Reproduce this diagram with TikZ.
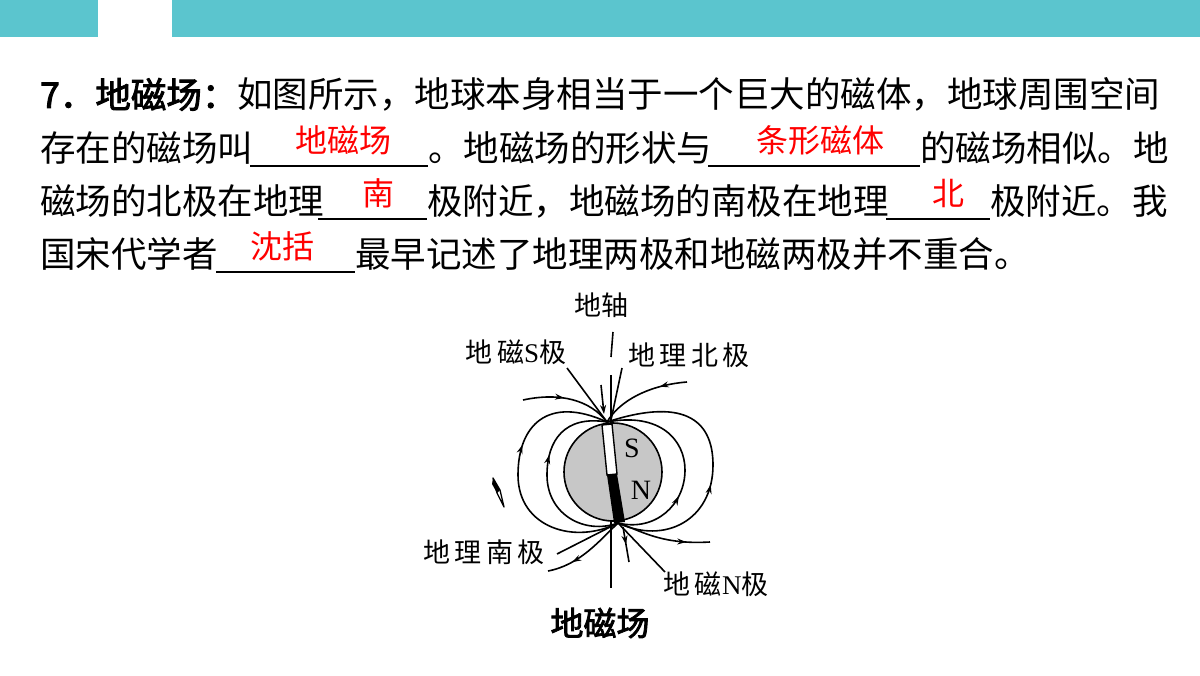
\documentclass[tikz,border=0pt]{standalone}
\usepackage{fontspec}
\usetikzlibrary{arrows.meta,decorations.markings}
\newfontfamily\cjk{Noto Sans CJK SC}[AutoFakeBold=2.5]
\newfontfamily\lat{Liberation Serif}
\definecolor{teal}{HTML}{5BC5CE}
\begin{document}
\begin{tikzpicture}[x=1pt,y=-1pt,
  body/.style={anchor=base west,inner sep=0pt,font=\cjk\fontsize{35.5}{35}\selectfont},
  ans/.style={anchor=base,inner sep=0pt,text=red,font=\cjk\fontsize{32}{32}\selectfont},
  lab/.style={inner sep=0pt,font=\cjk\fontsize{27}{27}\selectfont},
  fl/.style={line width=1.6pt},
  midarrow/.style={postaction={decorate},decoration={markings,mark=at position #1 with {\arrow{Stealth[length=9pt,width=6pt]}}}}]
\useasboundingbox (0,0) rectangle (1200,676);
\fill[teal] (0,0) rectangle (98,37);
\fill[teal] (172,0) rectangle (1200,37);
% text lines
\node[body] (l1) at (40,108) {{\bfseries 7．地磁场：}如图所示，地球本身相当于一个巨大的磁体，地球周围空间};
\node[body] (l2a) at (40,162) {存在的磁场叫};
\node[body] (l2b) at (428,162) {。地磁场的形状与};
\node[body] (l2c) at (920,162) {的磁场相似。地};
\node[body] (l3a) at (40,215) {磁场的北极在地理};
\node[body] (l3b) at (427,215) {极附近，地磁场的南极在地理};
\node[body] (l3c) at (990,215) {极附近。我};
\node[body] (l4a) at (40,268) {国宋代学者};
\node[body] (l4b) at (355,268) {最早记述了地理两极和地磁两极并不重合。};
\draw[line width=1.4pt] (250,166) -- (428,166) (708,166) -- (920,166)
  (318,219) -- (427,219) (886,219) -- (990,219) (216,272) -- (355,272);
\node[ans] (a1) at (343,153) {地磁场};
\node[ans] (a2) at (820,153) {条形磁体};
\node[ans] (a3) at (378,206) {南};
\node[ans] (a4) at (948,206) {北};
\node[ans] (a5) at (282,259) {沈括};
% diagram
\coordinate (P) at (607,422);
\coordinate (Q) at (618,523);
\draw[fl] (613,332) -- (611,357);
\draw[fl] (611,375) -- (611,588);
\node[draw,line width=1.6pt,fill=black!22,circle,minimum size=98pt,inner sep=0pt] (globe) at (613,472) {};
\fill[white,draw=black,line width=1.4pt] (602,425) -- (612,424) -- (617,474) -- (607,475) -- cycle;
\fill[black] (607,475) -- (617,474) -- (625,522) -- (614,523) -- cycle;
\node[inner sep=0pt,font=\lat\fontsize{28}{28}\selectfont] (S) at (632,448) {S};
\node[inner sep=0pt,font=\lat\fontsize{28}{28}\selectfont] (N) at (641,490) {N};
% loops
\draw[fl,midarrow=0.62] (Q) .. controls (585,535) and (547,515) .. (547,475) .. controls (547,440) and (565,415) .. (P);
\draw[fl,midarrow=0.35] (Q) .. controls (655,532) and (685,505) .. (685,470) .. controls (685,440) and (660,412) .. (P);
\draw[fl,midarrow=0.62] (Q) .. controls (575,545) and (518,528) .. (518,475) .. controls (518,425) and (548,395) .. (P);
\draw[fl,midarrow=0.42] (Q) .. controls (665,545) and (713,520) .. (713,465) .. controls (713,425) and (690,395) .. (P);
\coordinate (tl) at (523,400);
\coordinate (tr) at (687,382);
\coordinate (br) at (710,542);
\coordinate (bl) at (548,571);
\draw[fl,midarrow=0.45] (tl) .. controls (560,392) and (590,400) .. (P);
\draw[fl,midarrow=0.3] (tr) .. controls (650,385) and (620,400) .. (P);
\draw[fl,midarrow=0.75] (Q) .. controls (640,530) and (660,545) .. (br);
\draw[fl,midarrow=0.7] (Q) .. controls (600,540) and (580,565) .. (bl);
% pointer lines
\coordinate (sp) at (567,368);
\coordinate (np) at (622,368);
\coordinate (sbp) at (557,554);
\coordinate (nbp) at (665,572);
\draw[fl] (sp) -- (P);
\draw[fl] (np) -- (611,420);
\draw[fl] (sbp) -- (Q);
\draw[fl] (nbp) -- (Q);
\coordinate (a1s) at (601,385);
\coordinate (a1e) at (604,414);
\draw[fl,-{Stealth[length=9pt,width=6pt]}] (a1s) -- (a1e);
\coordinate (a2s) at (623,527);
\coordinate (a2e) at (629,562);
\draw[fl,midarrow=0.5] (a2s) -- (a2e);
% compass
\fill[black] (493,478) -- (500,490) -- (497,493) -- (492,484) -- cycle;
\draw[line width=1.3pt,line join=round] (493,478) -- (500,490) -- (504,507) -- (497,493) -- cycle;
% labels
\node[lab] (zhou) at (601,305) {地轴};
\node[lab] (sj) at (516,352) {地\,磁\lat S\cjk 极};
\node[lab] (bj) at (689,355) {地\,理\,北\,极};
\node[lab] (nj) at (484,552) {地\,理\,南\,极};
\node[lab] (nn) at (716,584) {地\,磁\lat N\cjk 极};
\node[inner sep=0pt,font=\cjk\bfseries\fontsize{33}{33}\selectfont] (title) at (600,623) {地磁场};
\end{tikzpicture}
\end{document}
